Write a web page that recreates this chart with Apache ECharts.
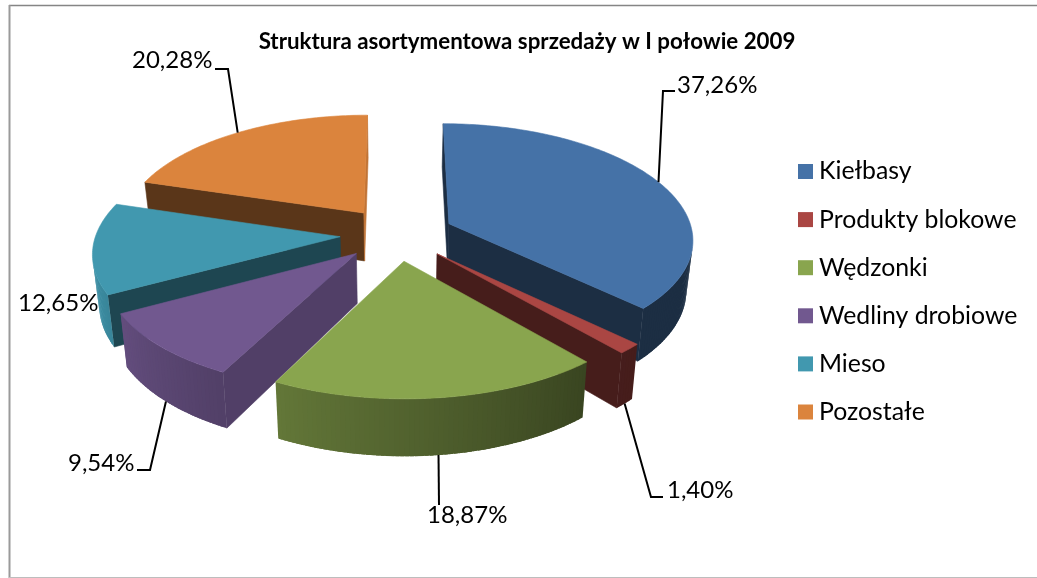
<!DOCTYPE html>
<html><head><meta charset="utf-8">
<style>html,body{margin:0;padding:0;background:#fff}#c{width:1037px;height:578px}</style>
<script src="https://cdn.jsdelivr.net/npm/echarts@6/dist/echarts.min.js"></script>
</head><body><div id="c"></div>
<script>
const titleText = 'Struktura asortymentowa sprzedaży w I połowie 2009';
const categories = ['Kiełbasy','Produkty blokowe','Wędzonki','Wedliny drobiowe','Mieso','Pozostałe'];
const shares = [37.26,1.40,18.87,9.54,12.65,20.28];
const topColors = ['#4572a7','#aa4643','#89a54e','#71588f','#4198af','#db843d'];
const frontWallShade = [0.40,0.41,0.45,0.72,0.46,0.41];
const sliverShade = [0.40,0.41,0.45,0.45,0.45,0.88];
// label layout: [text x, text y, elbow x, elbow y, end x, end y, anchor on lower rim?]
const labelLayout = [
  [677,85, 663,91, 675,91, false],
  [667,490, 651,497, 663,497, true],
  [427,515, 439,505, 439,505, true],
  [68,463, 150,470, 137,470, true],
  [18,303, null,null,null,null, false],
  [132,60, 228,69, 215,69, false]
];
// projection of the tilted pie
const P = {cx:397, cy:234, k:0.468, f:2050, fx:1950, R:244, e:57, H:49, m:0.978};
function project(X,w,low){
  const s = 1/(1+w/P.f), sx = 1/(1+w/P.fx);
  let x = P.cx + X*sx, y = P.cy - P.k*w*s;
  if(low){ x = P.cx + (x-P.cx)*P.m; y += P.H*s; }
  return [x,y];
}
const total = shares.reduce((a,b)=>a+b,0);
const bounds = []; let run = 0;
shares.forEach(v=>{ const a0 = run/total*360; run += v; bounds.push([a0, run/total*360]); });
const rad = d=>d*Math.PI/180;
function rimPt(i,deg,low){
  const m = rad((bounds[i][0]+bounds[i][1])/2), t = rad(deg);
  return project(P.R*Math.sin(t)+P.e*Math.sin(m), P.R*Math.cos(t)+P.e*Math.cos(m), low);
}
function apexPt(i,low){
  const m = rad((bounds[i][0]+bounds[i][1])/2);
  return project(P.e*Math.sin(m), P.e*Math.cos(m), low);
}
function shade(hex,f){
  const n = parseInt(hex.slice(1),16);
  const c = [n>>16,(n>>8)&255,n&255].map(v=>Math.round(v*f));
  return 'rgb('+c.join(',')+')';
}
function area(p){ let a=0; for(let i=0;i<p.length;i++){const q=p[(i+1)%p.length]; a+=p[i][0]*q[1]-q[0]*p[i][1];} return a/2; }
function rimShade(deg,floor){ return Math.max(floor, Math.min(1, 0.42+(deg-140)*0.0045)); }
// paint order: far slices first
const depthRank = (()=>{
  const d = bounds.map(b=>Math.cos(rad((b[0]+b[1])/2)));
  const order = d.map((v,i)=>i).sort((a,b)=>d[b]-d[a]);
  const r = []; order.forEach((i,n)=>r[i]=n); return r;
})();
const fontName = 'Lato, "Noto Sans", sans-serif';
function renderSlice(i){
  const kids = []; const base = depthRank[i]*2000 + 10; let n = 0;
  const poly = (pts,fill,edge)=>kids.push({type:'polygon',z2:base+(n++),shape:{points:pts},
    style:{fill:fill,stroke:edge?fill:null,lineWidth:edge?0.6:0}});
  const [a0,a1] = bounds[i];
  const A = apexPt(i,false), B = apexPt(i,true);
  // radial walls, only when they face the viewer
  [[a0,1],[a1,-1]].forEach(([deg,dir])=>{
    const q = [A, rimPt(i,deg,false), rimPt(i,deg,true), B];
    if(area(q)*dir < 0){
      const dia = Math.abs(q[1][0]-A[0])/Math.abs(q[1][1]-A[1]);
      poly(q, shade(topColors[i], dia>0.4 ? frontWallShade[i] : sliverShade[i]), true);
    }
  });
  // rim wall: overlapping strips, one per degree, so no seams show
  const steps = Math.max(2,Math.ceil(a1-a0));
  const dd = (a1-a0)/steps;
  for(let s=0;s<steps;s++){
    const d0=a0+dd*s, d1=Math.min(a1,d0+dd*1.8);
    const q=[rimPt(i,d0,false),rimPt(i,d1,false),rimPt(i,d1,true),rimPt(i,d0,true)];
    if(area(q)>0) continue;
    poly(q, shade(topColors[i], rimShade(d0+dd/2, frontWallShade[i]<0.42?frontWallShade[i]:0.40)), false);
  }
  // top face
  const top=[A];
  for(let s=0;s<=steps;s++) top.push(rimPt(i,a0+dd*s,false));
  poly(top, topColors[i], true);
  // leader and label
  const L = labelLayout[i];
  if(L[2]!==null){
    const anchor = rimPt(i,(a0+a1)/2,L[6]);
    kids.push({type:'polyline',z2:20000,shape:{points:[anchor,[L[2],L[3]],[L[4],L[5]]]},
      style:{fill:'none',stroke:'#000',lineWidth:2}});
  }
  kids.push({type:'text',z2:20001,style:{x:L[0],y:L[1],text:shares[i].toFixed(2).replace('.',',')+'%',
    fill:'#000',fontFamily:fontName,fontSize:24,verticalAlign:'middle',align:'left'}});
  return {type:'group',children:kids};
}
const chart = echarts.init(document.getElementById('c'),null,{renderer:'canvas'});
chart.setOption({
  animation:false, backgroundColor:'#fff',
  title:{text:titleText,left:522,top:26,textAlign:'center',
    textStyle:{fontFamily:fontName,fontWeight:'bold',fontSize:22.3,color:'#000'}},
  legend:{orient:'vertical',left:798,top:159,padding:0,itemWidth:15,itemHeight:15,itemGap:23.1,icon:'rect',
    selectedMode:false,data:categories,
    textStyle:{fontFamily:fontName,fontSize:24.8,color:'#000',padding:[0,0,0,1]}},
  graphic:[
    {type:'line',shape:{x1:9,y1:5.5,x2:1037,y2:5.5},style:{stroke:'#858585',lineWidth:1.5},silent:true},
    {type:'line',shape:{x1:9.5,y1:5,x2:9.5,y2:578},style:{stroke:'#9a9a9a',lineWidth:2},silent:true},
    {type:'line',shape:{x1:9,y1:577.5,x2:1037,y2:577.5},style:{stroke:'#bdbdbd',lineWidth:1},silent:true}
  ],
  series: categories.map((name,i)=>({
    type:'custom',name,coordinateSystem:'none',silent:true,
    itemStyle:{color:topColors[i]},
    data:[[shares[i]]],
    renderItem:()=>renderSlice(i)
  }))
});
</script></body></html>
